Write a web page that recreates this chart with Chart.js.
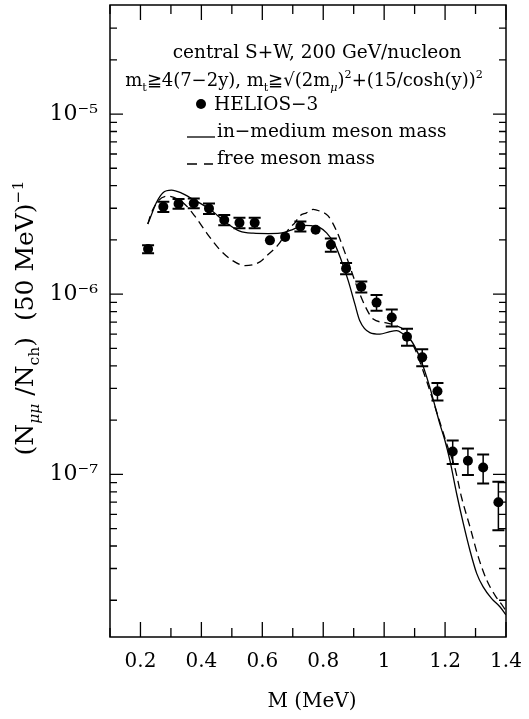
<!DOCTYPE html>
<html>
<head>
<meta charset="utf-8">
<title>Dimuon spectrum, central S+W</title>
<script src="https://cdn.jsdelivr.net/npm/chart.js@4.4.1/dist/chart.umd.min.js"></script>
<style>
  body { margin: 0; background: #fff; }
  #wrap { width: 529px; height: 719px; }
</style>
</head>
<body>
<div id="wrap"><canvas id="dimuon" width="529" height="719"></canvas></div>
<script>
// HELIOS-3 points, 50 MeV bins
var massBins = [0.225, 0.275, 0.325, 0.375, 0.425, 0.475, 0.525, 0.575, 0.625, 0.675, 0.725, 0.775,
                0.825, 0.875, 0.925, 0.975, 1.025, 1.075, 1.125, 1.175, 1.225, 1.275, 1.325, 1.375];
var heliosYield = [1.78e-6, 3.06e-6, 3.18e-6, 3.2e-6, 2.99e-6, 2.58e-6, 2.49e-6, 2.49e-6, 1.99e-6, 2.08e-6, 2.38e-6, 2.28e-6,
                   1.88e-6, 1.39e-6, 1.10e-6, 8.98e-7, 7.42e-7, 5.80e-7, 4.46e-7, 2.89e-7, 1.34e-7, 1.19e-7, 1.09e-7, 7.0e-8];
var heliosErr = [0.09e-6, 0.2e-6, 0.2e-6, 0.2e-6, 0.2e-6, 0.17e-6, 0.17e-6, 0.17e-6, 0.05e-6, 0.05e-6, 0.15e-6, 0.05e-6,
                 0.16e-6, 0.10e-6, 0.077e-6, 0.09e-6, 0.08e-6, 0.062e-6, 0.048e-6, 0.032e-6, 0.02e-6, 0.02e-6, 0.02e-6, 0.021e-6];

// in-medium meson mass (solid)
var inMediumMass = [0.224, 0.241, 0.252, 0.274, 0.302, 0.335, 0.373, 0.428, 0.482, 0.526, 0.570, 0.620, 0.658, 0.701,
                    0.734, 0.760, 0.789, 0.811, 0.838, 0.860, 0.882, 0.904, 0.920, 0.953, 0.986, 1.019, 1.041, 1.063,
                    1.085, 1.117, 1.150, 1.183, 1.1995, 1.216, 1.238, 1.260, 1.2815, 1.304, 1.325, 1.353, 1.380, 1.400];
var inMediumYield = [2.45e-6, 2.9e-6, 3.22e-6, 3.66e-6, 3.78e-6, 3.64e-6, 3.36e-6, 2.96e-6, 2.49e-6, 2.24e-6, 2.18e-6, 2.17e-6, 2.18e-6, 2.29e-6,
                     2.41e-6, 2.40e-6, 2.34e-6, 2.19e-6, 1.89e-6, 1.53e-6, 1.19e-6, 8.8e-7, 7.12e-7, 6.12e-7, 6.0e-7, 6.2e-7, 6.27e-7, 6.0e-7,
                     5.64e-7, 4.46e-7, 3.04e-7, 1.90e-7, 1.54e-7, 1.19e-7, 7.8e-8, 5.32e-8, 3.79e-8, 2.81e-8, 2.37e-8, 2.04e-8, 1.84e-8, 1.66e-8];

// free meson mass (dashed)
var freeMass = [0.224, 0.236, 0.258, 0.290, 0.340, 0.378, 0.417, 0.460, 0.504, 0.543, 0.592, 0.614, 0.651, 0.690, 0.707,
                0.723, 0.745, 0.767, 0.789, 0.816, 0.844, 0.877, 0.910, 0.942, 0.964, 1.002, 1.041, 1.068, 1.101, 1.139,
                1.178, 1.210, 1.232, 1.254, 1.282, 1.309, 1.337, 1.364, 1.391, 1.400];
var freeYield = [2.45e-6, 2.83e-6, 3.29e-6, 3.50e-6, 3.22e-6, 2.72e-6, 2.19e-6, 1.77e-6, 1.53e-6, 1.44e-6, 1.51e-6, 1.63e-6, 1.87e-6, 2.34e-6, 2.49e-6,
                 2.72e-6, 2.83e-6, 2.96e-6, 2.89e-6, 2.72e-6, 2.24e-6, 1.60e-6, 1.11e-6, 8.29e-7, 7.27e-7, 6.96e-7, 6.67e-7, 6.27e-7, 4.96e-7, 3.31e-7,
                 2.07e-7, 1.40e-7, 1.09e-7, 7.46e-8, 5.09e-8, 3.48e-8, 2.58e-8, 2.13e-8, 1.84e-8, 1.74e-8];

var xTickValues = [0.1, 0.2, 0.3, 0.4, 0.5, 0.6, 0.7, 0.8, 0.9, 1.0, 1.1, 1.2, 1.3, 1.4];
var xTickLabels = ['', '0.2', '', '0.4', '', '0.6', '', '0.8', '', '1', '', '1.2', '', '1.4'];
var yMajorValues = [1e-7, 1e-6, 1e-5];
var yTickLabels = ['10⁻⁷', '10⁻⁶', '10⁻⁵'];
var yMin = 1.25e-8, yMax = 4.03e-5;

var FONT = "'DejaVu Serif', serif";
var DOT = 5;

function toXY(xs, ys) {
    return xs.map(function (v, i) { return { x: v, y: ys[i] }; });
}

// 2..9 x 10^n between the axis limits
var yTickValues = [];
for (var e = -8; e <= -5; e++) {
    for (var k = 1; k <= 9; k++) {
        var v = k * Math.pow(10, e);
        if (v > yMin * 1.01 && v < yMax * 0.99) yTickValues.push(v);
    }
}

function majorIndex(v) {
    for (var i = 0; i < yMajorValues.length; i++) {
        if (Math.abs(v / yMajorValues[i] - 1) < 1e-6) return i;
    }
    return -1;
}

function drawRich(ctx, parts, x, y, size, align) {
    function fnt(p) {
        var s = p[1] ? size * 0.62 : size;
        return (p[1] === 'isub' ? 'italic ' : '') + s + 'px ' + FONT;
    }
    var w = 0;
    parts.forEach(function (p) { ctx.font = fnt(p); w += ctx.measureText(p[0]).width; });
    var cx = align === 'center' ? x - w / 2 : x;
    parts.forEach(function (p) {
        ctx.font = fnt(p);
        var dy = 0;
        if (p[1] === 'sub' || p[1] === 'isub') dy = size * 0.25;
        if (p[1] === 'sup') dy = -size * 0.42;
        ctx.fillText(p[0], cx, y + dy);
        cx += ctx.measureText(p[0]).width;
    });
}

var framePlugin = {
    id: 'framePlugin',
    afterDatasetsDraw: function (chart) {
        var ctx = chart.ctx, x = chart.scales.x, y = chart.scales.y;
        ctx.save();
        ctx.strokeStyle = '#000';
        massBins.forEach(function (m, i) {
            var px = x.getPixelForValue(m);
            var top = y.getPixelForValue(heliosYield[i] + heliosErr[i]);
            var bot = y.getPixelForValue(heliosYield[i] - heliosErr[i]);
            // very small errors vanish behind the symbol
            if ((bot - top) / 2 < 2.5) return;
            ctx.lineWidth = 1.5;
            ctx.beginPath(); ctx.moveTo(px, top); ctx.lineTo(px, bot); ctx.stroke();
            ctx.lineWidth = 2;
            ctx.beginPath();
            ctx.moveTo(px - 6, top); ctx.lineTo(px + 6, top);
            ctx.moveTo(px - 6, bot); ctx.lineTo(px + 6, bot);
            ctx.stroke();
        });
        ctx.restore();
    },
    afterDraw: function (chart) {
        var ctx = chart.ctx, a = chart.chartArea, x = chart.scales.x, y = chart.scales.y;
        ctx.save();
        ctx.strokeStyle = '#000';
        ctx.lineWidth = 1.5;
        ctx.strokeRect(a.left, a.top, a.right - a.left, a.bottom - a.top);

        ctx.lineWidth = 1.3;
        ctx.beginPath();
        xTickValues.forEach(function (v, i) {
            var px = x.getPixelForValue(v);
            var len = xTickLabels[i] ? 15 : 9;
            ctx.moveTo(px, a.bottom); ctx.lineTo(px, a.bottom - len);
            ctx.moveTo(px, a.top); ctx.lineTo(px, a.top + len);
        });
        yTickValues.forEach(function (v) {
            var py = y.getPixelForValue(v);
            var len = majorIndex(v) >= 0 ? 13 : 7;
            ctx.moveTo(a.left, py); ctx.lineTo(a.left + len, py);
            ctx.moveTo(a.right, py); ctx.lineTo(a.right - len, py);
        });
        ctx.stroke();

        // legend block
        ctx.fillStyle = '#000';
        ctx.textBaseline = 'alphabetic';
        drawRich(ctx, [['central S+W, 200 GeV/nucleon', '']], 317, 58, 18.5, 'center');
        drawRich(ctx, [['m', ''], ['t', 'sub'], ['≧4(7−2y), m', ''], ['t', 'sub'], ['≧√(2m', ''], ['μ', 'isub'],
                       [')', ''], ['2', 'sup'], ['+(15/cosh(y))', ''], ['2', 'sup']], 304, 86, 18, 'center');
        ctx.beginPath(); ctx.arc(201, 104, DOT, 0, Math.PI * 2); ctx.fill();
        drawRich(ctx, [['HELIOS−3', '']], 214, 110, 18.5, 'left');
        ctx.lineWidth = 1.3;
        ctx.beginPath(); ctx.moveTo(187, 137); ctx.lineTo(215, 137); ctx.stroke();
        drawRich(ctx, [['in−medium meson mass', '']], 217, 137, 18.5, 'left');
        ctx.beginPath();
        ctx.moveTo(187, 164); ctx.lineTo(197, 164);
        ctx.moveTo(204, 164); ctx.lineTo(213, 164);
        ctx.stroke();
        drawRich(ctx, [['free meson mass', '']], 217, 164, 18.5, 'left');

        // axis titles
        drawRich(ctx, [['M (MeV)', '']], (a.left + a.right) / 2 + 4, 707, 20, 'center');
        ctx.translate(33, 318);
        ctx.rotate(-Math.PI / 2);
        drawRich(ctx, [['(N', ''], ['μμ', 'isub'], [' /N', ''], ['ch', 'sub'], [')  (50 MeV)', ''], ['−1', 'sup']],
                 0, 0, 25, 'center');
        ctx.restore();
    }
};

var chartData = {
    datasets: [{
        label: 'HELIOS-3',
        data: toXY(massBins, heliosYield),
        showLine: false,
        pointRadius: DOT,
        pointHoverRadius: DOT,
        pointBackgroundColor: '#000',
        pointBorderWidth: 0,
        order: 0
    }, {
        label: 'in-medium meson mass',
        data: toXY(inMediumMass, inMediumYield),
        borderColor: '#000',
        borderWidth: 1.3,
        pointRadius: 0,
        cubicInterpolationMode: 'monotone',
        order: 1
    }, {
        label: 'free meson mass',
        data: toXY(freeMass, freeYield),
        borderColor: '#000',
        borderWidth: 1.3,
        borderDash: [8, 5],
        pointRadius: 0,
        cubicInterpolationMode: 'monotone',
        order: 2
    }]
};

var dimuonChart = new Chart(document.getElementById('dimuon'), {
    type: 'line',
    data: chartData,
    options: {
        responsive: false,
        animation: false,
        layout: { padding: { left: 0, right: 23, top: 4, bottom: 0 } },
        plugins: { legend: { display: false }, tooltip: { enabled: false } },
        scales: {
            x: {
                type: 'linear',
                min: 0.1,
                max: 1.4,
                grid: { display: false, drawTicks: false },
                border: { display: false },
                afterBuildTicks: function (s) { s.ticks = xTickValues.map(function (v) { return { value: v }; }); },
                afterFit: function (s) {
                    s.height = 82;
                    s.paddingLeft = 0; s.paddingRight = 0;
                },
                ticks: {
                    autoSkip: false,
                    maxRotation: 0,
                    padding: 13,
                    color: '#000',
                    font: { family: FONT, size: 20 },
                    callback: function (v, i) { return xTickLabels[i]; }
                }
            },
            y: {
                type: 'logarithmic',
                min: yMin,
                max: yMax,
                grid: { display: false, drawTicks: false },
                border: { display: false },
                afterBuildTicks: function (s) { s.ticks = yTickValues.map(function (v) { return { value: v }; }); },
                afterFit: function (s) {
                    s.width = 110;
                    s.paddingTop = 0; s.paddingBottom = 0;
                },
                ticks: {
                    autoSkip: false,
                    padding: 12,
                    color: '#000',
                    font: { family: FONT, size: 22 },
                    callback: function (v) {
                        var i = majorIndex(v);
                        return i >= 0 ? yTickLabels[i] : '';
                    }
                }
            }
        }
    },
    plugins: [framePlugin]
});
</script>
</body>
</html>
